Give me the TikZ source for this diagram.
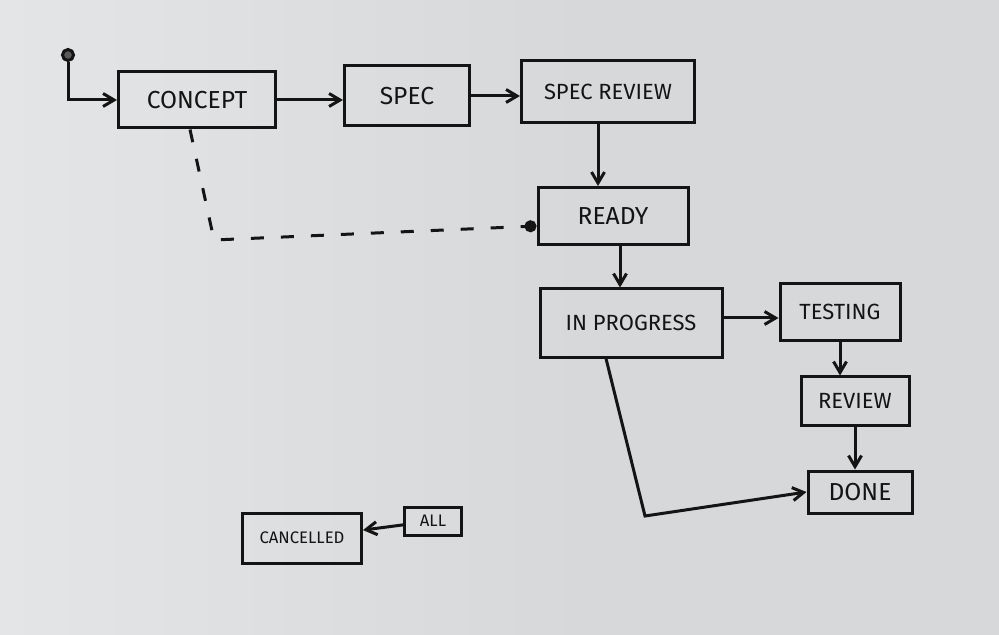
\documentclass[tikz,border=0pt]{standalone}
\usepackage{fontspec}
\setmainfont{Fira Sans}
\usetikzlibrary{arrows.meta,positioning,calc}
\definecolor{paper}{RGB}{214,216,218}
\definecolor{ink}{RGB}{20,20,20}
\begin{document}
\begin{tikzpicture}[x=0.2mm,y=-0.2mm,
  ar/.style={-{Straight Barb[length=2.2mm,width=2.6mm]},line width=0.6mm,draw=ink},
  dsh/.style={dash pattern=on 2.6mm off 3.4mm,line width=0.6mm,draw=ink,-{Circle[length=2.4mm]}},
  st/.style={draw=ink,line width=0.6mm,inner sep=0pt,font=\fontsize{14}{16}\selectfont,text=ink}]
\useasboundingbox[fill=paper] (0,0) rectangle (999,635);
\shade[left color=white,right color=paper,opacity=0.35] (0,0) rectangle (600,635);
% start point
\node[circle,draw=ink,fill=ink!70,line width=0.6mm,minimum size=2.2mm,inner sep=0pt] (init) at (68,55) {};
\node[st,minimum width=31.4mm,minimum height=11.2mm] (concept) at (197,100) {CONCEPT};
\node[st,minimum width=25mm,minimum height=12mm] (spec) at (407,96) {SPEC};
\node[st,minimum width=34.6mm,minimum height=12.4mm,font=\fontsize{12.5}{15}\selectfont] (specrev) at (608,92) {SPEC REVIEW};
\node[st,minimum width=30mm,minimum height=11.4mm] (ready) at (613,216) {READY};
\node[st,minimum width=36.4mm,minimum height=13.6mm,font=\fontsize{12.5}{15}\selectfont] (inprog) at (631,323) {IN PROGRESS};
\node[st,minimum width=24mm,minimum height=11.4mm,font=\fontsize{12.5}{15}\selectfont] (testing) at (840,312) {TESTING};
\node[st,minimum width=21.6mm,minimum height=9.6mm,font=\fontsize{12.5}{15}\selectfont] (review) at (855,401) {REVIEW};
\node[st,minimum width=20.8mm,minimum height=8.4mm] (done) at (860,492) {DONE};
\node[st,minimum width=23.8mm,minimum height=10mm,font=\fontsize{9.5}{11}\selectfont] (cancel) at (302,538) {CANCELLED};
\node[st,minimum width=11.4mm,minimum height=5.6mm,font=\fontsize{9.5}{11}\selectfont] (all) at (433,521) {ALL};
\coordinate (dcorner) at (214,240);
\coordinate (bend) at (645,516);
\coordinate (rv) at (598,0);
\coordinate (rd) at (620,0);
\coordinate (ipr) at ([yshift=1mm]inprog.east);

\draw[ar] (init) |- (concept.west);
\draw[ar] (concept.east) -- (spec.west |- concept.east);
\draw[ar] (spec.east) -- (specrev.west |- spec.east);
\draw[ar] (specrev.south -| rv) -- (ready.north -| rv);
\draw[dsh] ([xshift=-1.4mm]concept.south) -- (dcorner) -- ([yshift=-2mm]ready.west);
\draw[ar] (ready.south -| rd) -- (inprog.north -| rd);
\draw[ar] (ipr) -- (testing.west |- ipr);
\draw[ar] (testing) -- (testing |- review.north);
\draw[ar] (review) -- (review |- done.north);
\draw[ar] ([xshift=-5mm]inprog.south) -- (bend) -- (done.west);
\draw[ar] (all) -- (cancel);
\end{tikzpicture}
\end{document}
